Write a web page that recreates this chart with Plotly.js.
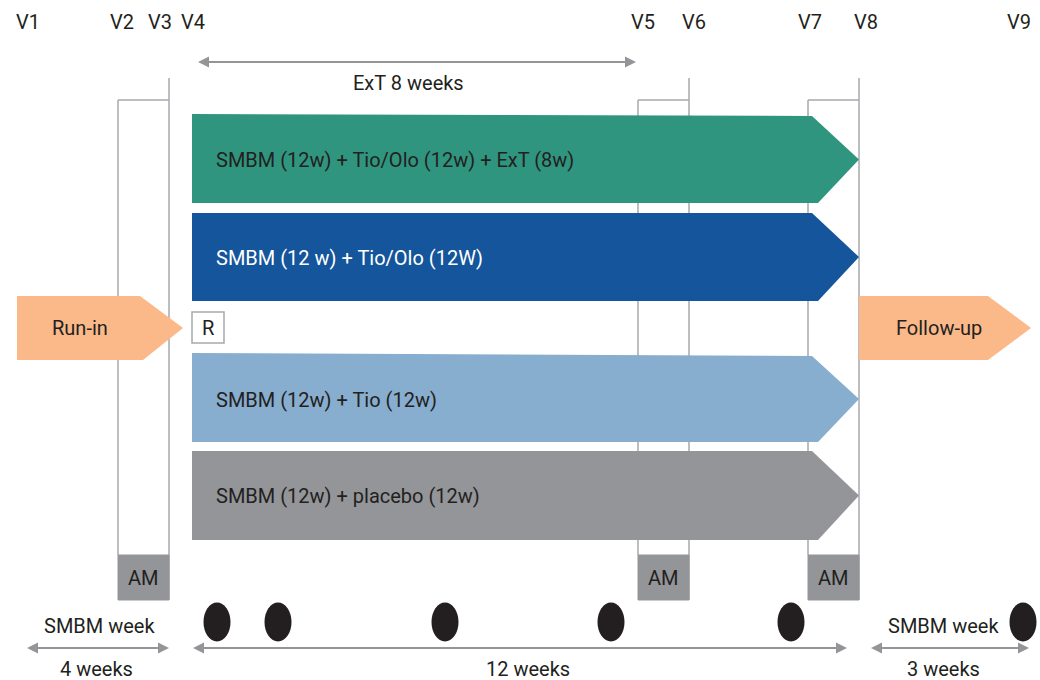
<!DOCTYPE html>
<html>
<head>
<meta charset="utf-8">
<script src="https://cdn.plot.ly/plotly-3.0.1.min.js"></script>
<style>html,body{margin:0;padding:0;background:#fff}#chart{width:1040px;height:680px}</style>
</head>
<body>
<div id="chart"></div>
<script>
// ---- content ----
const visitLabels = ['V1','V2','V3','V4','V5','V6','V7','V8','V9'];
const armLabels = [
  'SMBM (12w) + Tio/Olo (12w) + ExT (8w)',
  'SMBM (12 w) + Tio/Olo (12W)',
  'SMBM (12w) + Tio (12w)',
  'SMBM (12w) + placebo (12w)'
];
const armColors = ['#2f957f', '#14559b', '#87adcf', '#939598'];
const armTextColors = ['#231f20', '#ffffff', '#231f20', '#231f20'];
const phaseLabels = ['Run-in', 'Follow-up'];
const spanLabels = ['4 weeks', '12 weeks', '3 weeks'];
const extLabel = 'ExT 8 weeks';
const amLabel = 'AM';
const smbmLabel = 'SMBM week';
const randLabel = 'R';

// ---- geometry (diagram coordinates, px-like units) ----
const G = {
  visitX: [28, 122, 160, 193, 643, 694, 810, 866, 1019], visitY: 22,
  amBoxes: [[118, 169], [638, 689], [808, 859]],
  boxTop: 100, lineTop: 78, amTop: 555, amBottom: 600,
  armRows: [[114, 116, 203], [213, 213, 301], [353, 356, 442], [451, 451, 540]],
  armLeft: 192, armNotchTop: 812, armNotchBot: 818, armTip: 859, armTextX: 214,
  runIn: {x0: 17, notchT: 140, notchB: 143, tip: 183, y0: 296, y1: 360, tx: 80},
  follow: {x0: 859, notchT: 988, notchB: 988, tip: 1031, y0: 296, y1: 360, tx: 939},
  rBox: [192, 224, 312, 343],
  ext: {x0: 198, x1: 636, y: 62, ty: 83, tx: 408},
  dots: [217, 278, 445, 611, 791, 1023], dotY: 622, dotRx: 13.5, dotRy: 19.5,
  spans: [[27, 169], [193, 847], [871, 1029]], spanY: 648, spanTY: 669, spanTX: [96, 528, 943],
  smbmX: [99, 943], smbmY: 626
};
const lineCol = '#a7a9ac';
const arrowCol = '#939598';
const textCol = '#231f20';
const FONT = 'Roboto, "Noto Sans", sans-serif';
const FS = 20;

const shapes = [];
const annotations = [];

function txt(x, y, t, opts) {
  opts = opts || {};
  annotations.push(Object.assign({
    x: x, y: y, xref: 'x', yref: 'y', text: t, showarrow: false,
    xanchor: 'center', yanchor: 'middle',
    font: {family: FONT, size: FS, color: textCol}
  }, opts));
}
function line(x0, y0, x1, y1, col, w) {
  shapes.push({type: 'line', xref: 'x', yref: 'y', x0: x0, y0: y0, x1: x1, y1: y1,
    line: {color: col || lineCol, width: w || 1.5}});
}
function poly(pts, fill) {
  const d = 'M' + pts.map(p => p[0] + ',' + p[1]).join(' L') + ' Z';
  shapes.push({type: 'path', xref: 'x', yref: 'y', path: d, fillcolor: fill, line: {width: 0}});
}
function hArrow(x0, x1, y, both) {
  const L = 11, H = 5.5;
  line(both ? x0 + L - 1 : x0, y, x1 - L + 1, y, arrowCol, 2);
  poly([[x1, y], [x1 - L, y - H], [x1 - L, y + H]], arrowCol);
  if (both) poly([[x0, y], [x0 + L, y - H], [x0 + L, y + H]], arrowCol);
}

// visit labels
visitLabels.forEach((v, i) => txt(G.visitX[i], G.visitY, v));

// visit bracket lines (behind arms)
G.amBoxes.forEach(b => {
  line(b[0], G.boxTop, b[0], G.amTop);
  line(b[1], G.lineTop, b[1], G.amBottom);
  line(b[0], G.boxTop, b[1], G.boxTop);
});

// ExT arrow (double-headed)
hArrow(G.ext.x0, G.ext.x1, G.ext.y, true);
txt(G.ext.tx, G.ext.ty, extLabel);

// treatment arms
armLabels.forEach((lab, i) => {
  const [tl, tr, b] = G.armRows[i];
  const m = (tr + b) / 2;
  poly([[G.armLeft, tl], [G.armNotchTop, tr], [G.armTip, m], [G.armNotchBot, b], [G.armLeft, b]], armColors[i]);
  txt(G.armTextX, m + 0.5, lab, {xanchor: 'left', font: {family: FONT, size: FS, color: armTextColors[i]}});
});

// AM boxes
G.amBoxes.forEach(b => {
  shapes.push({type: 'rect', xref: 'x', yref: 'y', x0: b[0], x1: b[1], y0: G.amTop, y1: G.amBottom,
    fillcolor: '#939598', line: {color: '#939598', width: 1}});
  txt((b[0] + b[1]) / 2, (G.amTop + G.amBottom) / 2, amLabel);
});

// run-in / follow-up
[G.runIn, G.follow].forEach((p, i) => {
  const m = (p.y0 + p.y1) / 2;
  poly([[p.x0, p.y0], [p.notchT, p.y0], [p.tip, m], [p.notchB, p.y1], [p.x0, p.y1]], '#fbb98a');
  txt(p.tx, m, phaseLabels[i]);
});

// randomisation box
shapes.push({type: 'rect', xref: 'x', yref: 'y', x0: G.rBox[0], x1: G.rBox[1], y0: G.rBox[2], y1: G.rBox[3],
  fillcolor: '#ffffff', line: {color: lineCol, width: 1.5}});
txt((G.rBox[0] + G.rBox[1]) / 2, (G.rBox[2] + G.rBox[3]) / 2, randLabel);

// SMBM week dots
G.dots.forEach(x => {
  shapes.push({type: 'circle', xref: 'x', yref: 'y', x0: x - G.dotRx, x1: x + G.dotRx,
    y0: G.dotY - G.dotRy, y1: G.dotY + G.dotRy, fillcolor: '#231f20', line: {width: 0}});
});
G.smbmX.forEach(x => txt(x, G.smbmY, smbmLabel));

// duration spans
G.spans.forEach((s, i) => {
  hArrow(s[0], s[1], G.spanY, true);
  txt(G.spanTX[i], G.spanTY, spanLabels[i]);
});

// invisible trace so axes exist
const data = [{x: [0, 1040], y: [0, 680], mode: 'markers', marker: {opacity: 0}, hoverinfo: 'skip', showlegend: false}];

const layout = {
  width: 1040, height: 680,
  margin: {l: 0, r: 0, t: 0, b: 0},
  paper_bgcolor: '#ffffff', plot_bgcolor: '#ffffff',
  xaxis: {range: [0, 1040], visible: false, fixedrange: true},
  yaxis: {range: [680, 0], visible: false, fixedrange: true},
  shapes: shapes, annotations: annotations, showlegend: false
};
Plotly.newPlot('chart', data, layout, {displayModeBar: false, staticPlot: true});
</script>
</body>
</html>
